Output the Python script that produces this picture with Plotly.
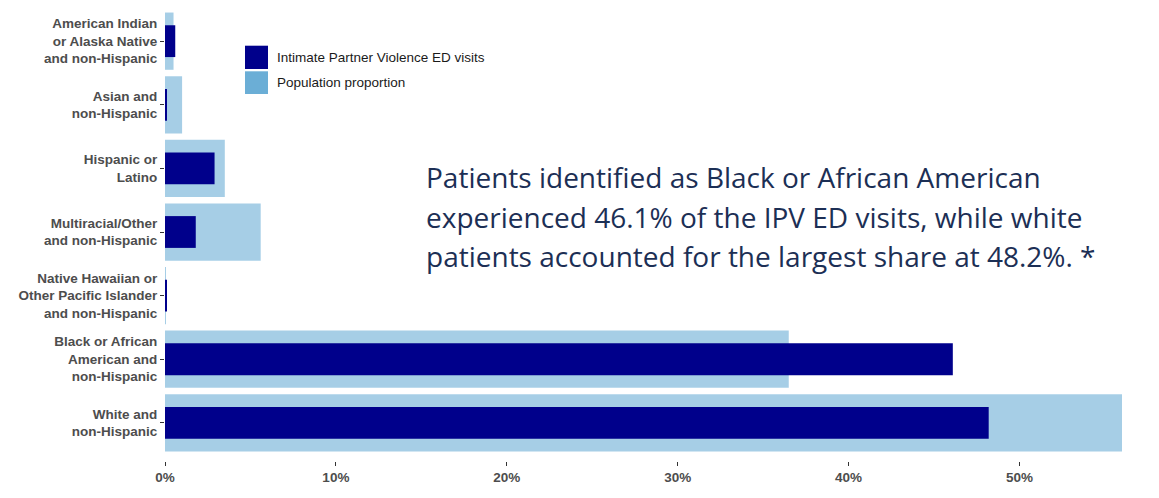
import plotly.graph_objects as go

categories = [
    "American Indian<br>or Alaska Native<br>and non-Hispanic",
    "Asian and<br>non-Hispanic",
    "Hispanic or<br>Latino",
    "Multiracial/Other<br>and non-Hispanic",
    "Native Hawaiian or<br>Other Pacific Islander<br>and non-Hispanic",
    "Black or African<br>American and<br>non-Hispanic",
    "White and<br>non-Hispanic",
]
ipv_visits = [0.6, 0.1, 2.9, 1.8, 0.1, 46.1, 48.2]
population = [0.5, 1.0, 3.5, 5.6, 0.05, 36.5, 56.0]
x_ticks = [0, 10, 20, 30, 40, 50]
x_tick_labels = ["0%", "10%", "20%", "30%", "40%", "50%"]
series_names = ["Intimate Partner Violence ED visits", "Population proportion"]
annotation_lines = [
    "Patients identified as Black or African American",
    "experienced 46.1% of the IPV ED visits, while white",
    "patients accounted for the largest share at 48.2%. *",
]

NAVY = "#00008B"
LIGHT = "#6BAED6"

fig = go.Figure()
fig.add_trace(go.Bar(
    y=categories, x=population, orientation="h", width=0.9,
    marker=dict(color=LIGHT, opacity=0.6, line=dict(width=0)),
    name=series_names[1], showlegend=False, hoverinfo="x+y",
))
fig.add_trace(go.Bar(
    y=categories, x=ipv_visits, orientation="h", width=0.5,
    marker=dict(color=NAVY, line=dict(width=0)),
    name=series_names[0], showlegend=False, hoverinfo="x+y",
))

# Plot area pixel geometry
L, R, T, B = 165, 1122, 3, 461
W, H = 1159, 498
def px(xp):
    return (xp - L) / (R - L)
def py(yp):
    return (B - yp) / (B - T)

shapes = []
annotations = []
# legend swatches and labels
sw = [(45.7, 69.0, NAVY), (71.3, 94.0, LIGHT)]
for (y0, y1, col), name in zip(sw, series_names):
    shapes.append(dict(type="rect", xref="paper", yref="paper",
                       x0=px(245), x1=px(268), y0=py(y1), y1=py(y0),
                       fillcolor=col, line=dict(width=0), layer="above"))
    annotations.append(dict(text=name, xref="paper", yref="paper",
                            x=px(275), y=py((y0 + y1) / 2), xanchor="left",
                            yanchor="middle", showarrow=False,
                            font=dict(family="Liberation Sans, Arial", size=13.5, color="#1A1A1A")))

for i, line in enumerate(annotation_lines):
    annotations.append(dict(text=line, xref="paper", yref="paper",
                            x=px(424), y=py(177 + 39.5 * i), xanchor="left",
                            yanchor="middle", showarrow=False,
                            font=dict(family="Open Sans", size=28, color="#1C2F55")))

tickfont = dict(family="Liberation Sans, Arial", size=13.5, color="#4D4D4D", weight="bold")
fig.update_layout(
    width=W, height=H,
    margin=dict(l=L, r=W - R, t=T, b=H - B),
    barmode="overlay",
    plot_bgcolor="white", paper_bgcolor="white",
    shapes=shapes, annotations=annotations,
    showlegend=False,
    xaxis=dict(range=[0, max(population)], tickvals=x_ticks, ticktext=x_tick_labels,
               showgrid=False, zeroline=False, showline=False,
               ticks="outside", ticklen=4, tickcolor="#333333", tickwidth=1,
               tickfont=tickfont),
    yaxis=dict(categoryorder="array", categoryarray=categories,
               range=[len(categories) - 0.4, -0.6],
               showgrid=False, zeroline=False, showline=False,
               ticks="outside", ticklen=4, tickcolor="#333333", tickwidth=1,
               tickfont=tickfont),
)

fig.write_html("out.html")
